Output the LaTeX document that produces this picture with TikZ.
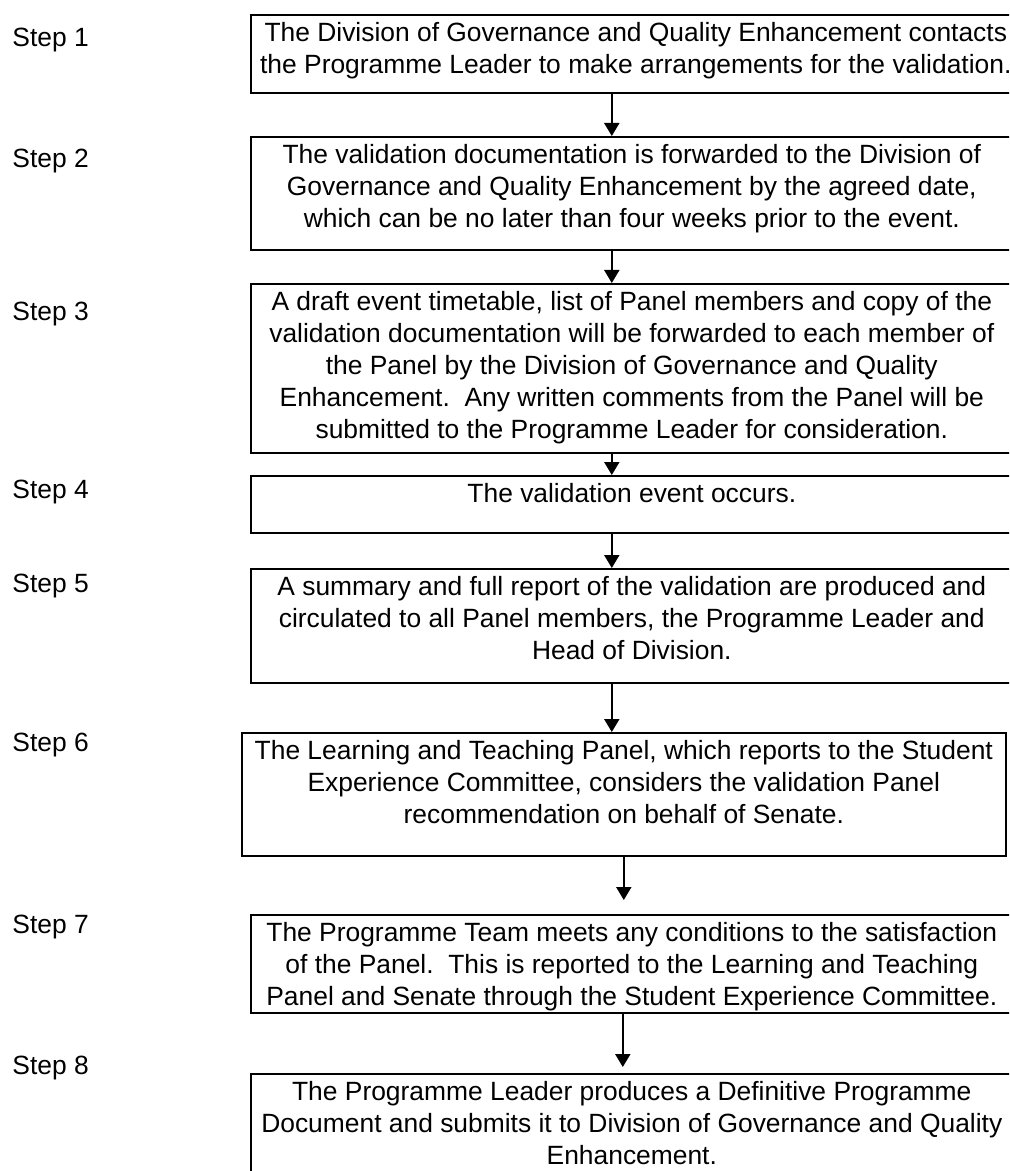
\documentclass[tikz,border=0pt]{standalone}
\usepackage{fontspec}
\setmainfont{Liberation Sans}
\usetikzlibrary{arrows.meta}

% Text of one box, set from the top of the box down.
\newcommand{\boxtext}[3][373pt]{\parbox[t][#2][t]{#1}{\centering #3}}

\begin{document}
\begin{tikzpicture}[%
        x = 0.5pt,
        y = -0.5pt,
        > = {Triangle[length=6.5pt, width=7.5pt]},
        font = \fontsize{13.2}{16}\selectfont,
        stepbox/.style = {draw, line width = 0.8pt, anchor = north west, inner sep = 4pt},
        steplabel/.style = {anchor = base west, inner sep = 0pt},
        flow/.style = {->, line width = 1pt}
    ]

        % Page size, and cut the boxes off at the right edge.
        \useasboundingbox (0, 0) rectangle (1009, 1171);
        \clip (0, 0) rectangle (1009, 1171);

        % Step numbers down the left side.
        \foreach \n/\y in {1/47, 2/168, 3/321, 4/498, 5/592, 6/751, 7/933, 8/1074}{%
            \node[steplabel] (label\n) at (12, \y) {Step \n};
        }

        % The boxes of the procedure.
        \node[stepbox] (box1) at (250, 14) {\boxtext[377pt]{31pt}{The Division of Governance and Quality Enhancement contacts\\
            the Programme Leader to make arrangements for the validation.}};
        \node[stepbox] (box2) at (250, 136) {\boxtext{48.5pt}{The validation documentation is forwarded to the Division of\\
            Governance and Quality Enhancement by the agreed date,\\
            which can be no later than four weeks prior to the event.}};
        \node[stepbox] (box3) at (250, 283) {\boxtext{76.5pt}{A draft event timetable, list of Panel members and copy of the\\
            validation documentation will be forwarded to each member of\\
            the Panel by the Division of Governance and Quality\\
            Enhancement.\ \ Any written comments from the Panel will be\\
            submitted to the Programme Leader for consideration.}};
        \node[stepbox] (box4) at (250, 475) {\boxtext{20.5pt}{The validation event occurs.}};
        \node[stepbox] (box5) at (250, 568) {\boxtext{49pt}{A summary and full report of the validation are produced and\\
            circulated to all Panel members, the Programme Leader and\\
            Head of Division.}};
        \node[stepbox] (box6) at (241, 732) {\boxtext[374pt]{53.5pt}{The Learning and Teaching Panel, which reports to the Student\\
            Experience Committee, considers the validation Panel\\
            recommendation on behalf of Senate.}};
        \node[stepbox] (box7) at (250, 914) {\boxtext{41pt}{The Programme Team meets any conditions to the satisfaction\\
            of the Panel.\ \ This is reported to the Learning and Teaching\\
            Panel and Senate through the Student Experience Committee.}};
        \node[stepbox] (box8) at (250, 1073) {\boxtext{60pt}{The Programme Leader produces a Definitive Programme\\
            Document and submits it to Division of Governance and Quality\\
            Enhancement.}};

        % Arrows from each box to the next.
        \draw[flow] ([xshift=-12pt]box1.south) -- ([xshift=-10pt]box2.north);
        \draw[flow] ([xshift=-10pt]box2.south) -- ([xshift=-10pt]box3.north);
        \draw[flow] ([xshift=-10pt]box3.south) -- ([xshift=-10pt]box4.north);
        \draw[flow] ([xshift=-10pt]box4.south) -- ([xshift=-10pt]box5.north);
        \draw[flow] ([xshift=-10pt]box5.south) -- ([xshift=-10pt]box5.south |- box6.north);
        \draw[flow, shorten > = 7pt] (box6.south) -- (box6.south |- box7.north);
        \draw[flow, shorten > = 3pt] ([xshift=-4.5pt]box7.south) -- ([xshift=-4.5pt]box8.north);
    \end{tikzpicture}
\end{document}
